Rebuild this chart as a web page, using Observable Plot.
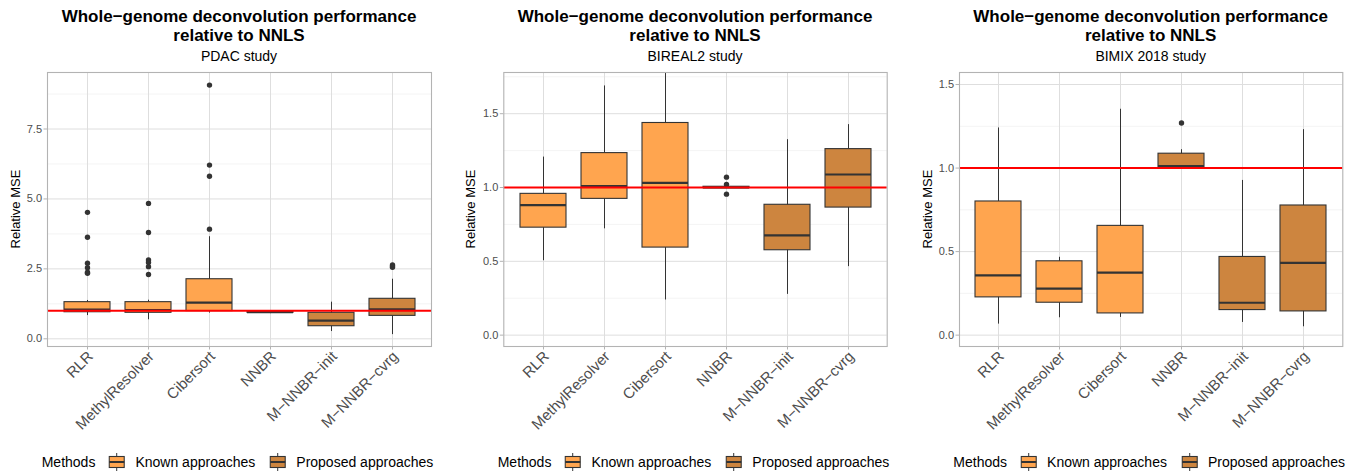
<!DOCTYPE html>
<html>
<head>
<meta charset="utf-8">
<script src="https://cdn.jsdelivr.net/npm/d3@7"></script>
<script src="https://cdn.jsdelivr.net/npm/@observablehq/plot@0.6"></script>
<style>
  html, body { margin: 0; padding: 0; background: #fff; }
  body { width: 1364px; height: 475px; position: relative; overflow: hidden; font-family: "Liberation Sans", Arial, Helvetica, sans-serif; }
  .col { position: absolute; top: 0; height: 475px; }
  .title { position: absolute; text-align: center; font-weight: bold; font-size: 17px; line-height: 19px; color: #000; white-space: nowrap; }
  .subtitle { position: absolute; text-align: center; font-size: 14px; line-height: 16px; color: #000; white-space: nowrap; }
  .ylab { position: absolute; font-size: 13px; line-height: 15px; color: #000; white-space: nowrap; transform: translate(-50%, -50%) rotate(-90deg); }
  .plot { position: absolute; top: 64px; left: 0; }
  .legend { position: absolute; top: 453px; transform: translateX(-50%); display: flex; align-items: center; font-size: 14px; line-height: 18px; white-space: nowrap; color: #000; }
  .legend svg { display: block; }
  [aria-label="y-axis tick"], [aria-label="x-axis tick"] { stroke: #B3B3B3; }
</style>
</head>
<body>
<script>
// ---------- data ----------
const methods = ["RLR", "MethylResolver", "Cibersort", "NNBR", "M\u2212NNBR\u2212init", "M\u2212NNBR\u2212cvrg"];
const methodGroup = ["Known approaches", "Known approaches", "Known approaches", "Proposed approaches", "Proposed approaches", "Proposed approaches"];
const groups = ["Known approaches", "Proposed approaches"];
const groupColors = ["#FFA54F", "#CD853F"];
const studies = ["PDAC study", "BIREAL2 study", "BIMIX 2018 study"];

// PDAC study
const pdacLo  = [0.83, 0.68, 0.92, 0.90, 0.26, 0.15];
const pdacQ1  = [0.95, 0.93, 0.99, 0.93, 0.45, 0.82];
const pdacMed = [1.04, 1.03, 1.29, 0.95, 0.65, 1.05];
const pdacQ3  = [1.31, 1.31, 2.13, 0.97, 0.93, 1.43];
const pdacHi  = [1.37, 1.38, 3.65, 0.99, 1.31, 2.13];
const pdacOut = [[4.52, 3.63, 2.70, 2.54, 2.38, 2.34], [4.84, 3.80, 2.82, 2.73, 2.58, 2.30], [9.07, 6.21, 5.81, 3.92], [], [], [2.64, 2.60, 2.56]];

// BIREAL2 study
const birealLo  = [0.504, 0.72, 0.238, 0.995, 0.276, 0.464];
const birealQ1  = [0.728, 0.923, 0.593, 0.995, 0.575, 0.864];
const birealMed = [0.88, 1.009, 1.032, 1.0, 0.676, 1.088];
const birealQ3  = [0.957, 1.233, 1.437, 1.005, 0.883, 1.26];
const birealHi  = [1.206, 1.688, 1.85, 1.005, 1.324, 1.426];
const birealOut = [[], [], [], [1.07, 1.02, 0.955], [], []];

// BIMIX 2018 study
const bimixLo  = [0.066, 0.104, 0.106, 1.0, 0.076, 0.05];
const bimixQ1  = [0.226, 0.194, 0.13, 1.006, 0.15, 0.142];
const bimixMed = [0.358, 0.278, 0.374, 1.012, 0.194, 0.432];
const bimixQ3  = [0.80, 0.442, 0.654, 1.086, 0.468, 0.776];
const bimixHi  = [1.24, 0.466, 1.352, 1.11, 0.926, 1.23];
const bimixOut = [[], [], [], [1.27], [], []];

// axis ticks and domains
const pdacTicks = [0, 2.5, 5, 7.5];
const pdacMinor = [1.25, 3.75, 6.25, 8.75];
const pdacDomain = [-0.275, 9.52];
const birealTicks = [0, 0.5, 1, 1.5];
const birealMinor = [0.25, 0.75, 1.25, 1.75];
const birealDomain = [-0.077, 1.779];
const bimixTicks = [0, 0.5, 1, 1.5];
const bimixMinor = [0.25, 0.75, 1.25];
const bimixDomain = [-0.068, 1.572];
const reference = [1];

const yLabel = "Relative MSE";
const legendTitle = "Methods";

// ---------- layout ----------
const panels = [
  {study: studies[0], lo: pdacLo, q1: pdacQ1, med: pdacMed, q3: pdacQ3, hi: pdacHi, out: pdacOut, ticks: pdacTicks, minor: pdacMinor, domain: pdacDomain,
   left: 0, width: 455, ml: 47, mr: 24, ylx: 15},
  {study: studies[1], lo: birealLo, q1: birealQ1, med: birealMed, q3: birealQ3, hi: birealHi, out: birealOut, ticks: birealTicks, minor: birealMinor, domain: birealDomain,
   left: 455, width: 455, ml: 48.3, mr: 23.3, ylx: 15},
  {study: studies[2], lo: bimixLo, q1: bimixQ1, med: bimixMed, q3: bimixQ3, hi: bimixHi, out: bimixOut, ticks: bimixTicks, minor: bimixMinor, domain: bimixDomain,
   left: 910, width: 454, ml: 49, mr: 21.7, ylx: 17}
];

const H = 380, MT = 8, MB = 98;

function swatch(color) {
  const ns = "http://www.w3.org/2000/svg";
  const s = document.createElementNS(ns, "svg");
  s.setAttribute("width", 17); s.setAttribute("height", 18);
  s.innerHTML = `<line x1="8.5" x2="8.5" y1="0" y2="18" stroke="#333" stroke-width="1"/>
    <rect x="1" y="3.5" width="15" height="11" fill="${color}" stroke="#333" stroke-width="1.1"/>
    <line x1="1" x2="16" y1="9" y2="9" stroke="#333" stroke-width="2"/>`;
  return s;
}

for (const p of panels) {
  const col = document.createElement("div");
  col.className = "col";
  col.style.left = p.left + "px";
  col.style.width = p.width + "px";
  document.body.appendChild(col);

  const panelW = p.width - p.ml - p.mr;
  const center = p.ml + panelW / 2;

  const t = document.createElement("div");
  t.className = "title";
  t.style.left = (center - 250) + "px"; t.style.width = "500px"; t.style.top = "6.6px";
  t.innerHTML = "Whole\u2212genome deconvolution performance<br>relative to NNLS";
  col.appendChild(t);

  const st = document.createElement("div");
  st.className = "subtitle";
  st.style.left = (center - 200) + "px"; st.style.width = "400px"; st.style.top = "48.2px";
  st.textContent = p.study;
  col.appendChild(st);

  const yl = document.createElement("div");
  yl.className = "ylab";
  yl.style.left = p.ylx + "px"; yl.style.top = "209px";
  yl.textContent = yLabel;
  col.appendChild(yl);

  const rows = methods.map((m, i) => ({method: m, group: methodGroup[i], lo: p.lo[i], q1: p.q1[i], med: p.med[i], q3: p.q3[i], hi: p.hi[i]}));
  const outs = methods.flatMap((m, i) => p.out[i].map(v => ({method: m, value: v})));

  const chart = Plot.plot({
    width: p.width, height: H,
    marginLeft: p.ml, marginRight: p.mr, marginTop: MT, marginBottom: MB,
    style: {fontFamily: "'Liberation Sans', Arial, sans-serif", background: "transparent", overflow: "visible"},
    x: {type: "band", domain: methods, paddingInner: 0.25, paddingOuter: 0.225, axis: null, label: null},
    y: {domain: p.domain, axis: null, label: null},
    color: {domain: groups, range: groupColors},
    marks: [
      Plot.ruleY(p.minor, {stroke: "#EDEDED", strokeWidth: 0.6}),
      Plot.ruleY(p.ticks, {stroke: "#DEDEDE", strokeWidth: 1}),
      Plot.ruleX(methods, {x: d => d, stroke: "#DEDEDE", strokeWidth: 1}),
      Plot.ruleX(rows, {x: "method", y1: "lo", y2: "hi", stroke: "#333333", strokeWidth: 1, clip: true}),
      Plot.barY(rows, {x: "method", y1: "q1", y2: "q3", fill: "group", stroke: "#333333", strokeWidth: 1.1, clip: true}),
      Plot.tickY(rows, {x: "method", y: "med", stroke: "#333333", strokeWidth: 2.2}),
      Plot.dot(outs, {x: "method", y: "value", r: 2.7, fill: "#333333", stroke: null}),
      Plot.ruleY(reference, {stroke: "#FF0000", strokeWidth: 2}),
      Plot.frame({stroke: "#B3B3B3", strokeWidth: 1.1}),
      Plot.axisY(p.ticks, {tickSize: 3.5, tickPadding: 2, tickFormat: d3.format(".1f"), fontSize: 11, color: "#4D4D4D", label: null}),
      Plot.axisX({tickSize: 3.5, tickFormat: () => "", label: null}),
      Plot.axisX({tickSize: 0, tickPadding: 3.5, tickRotate: -45, fontSize: 15, color: "#4D4D4D", label: null, dx: 3, dy: 4})
    ]
  });
  chart.classList.add("plot");
  col.appendChild(chart);

  const lg = document.createElement("div");
  lg.className = "legend";
  lg.style.left = (center - 1.5) + "px";
  const lt = document.createElement("span"); lt.textContent = legendTitle; lt.style.marginRight = "13px";
  lg.appendChild(lt);
  groups.forEach((g, i) => {
    const sw = swatch(groupColors[i]);
    sw.style.marginRight = "10px";
    lg.appendChild(sw);
    const l = document.createElement("span"); l.textContent = g;
    if (i === 0) l.style.marginRight = "14px";
    lg.appendChild(l);
  });
  col.appendChild(lg);
}
</script>
</body>
</html>
